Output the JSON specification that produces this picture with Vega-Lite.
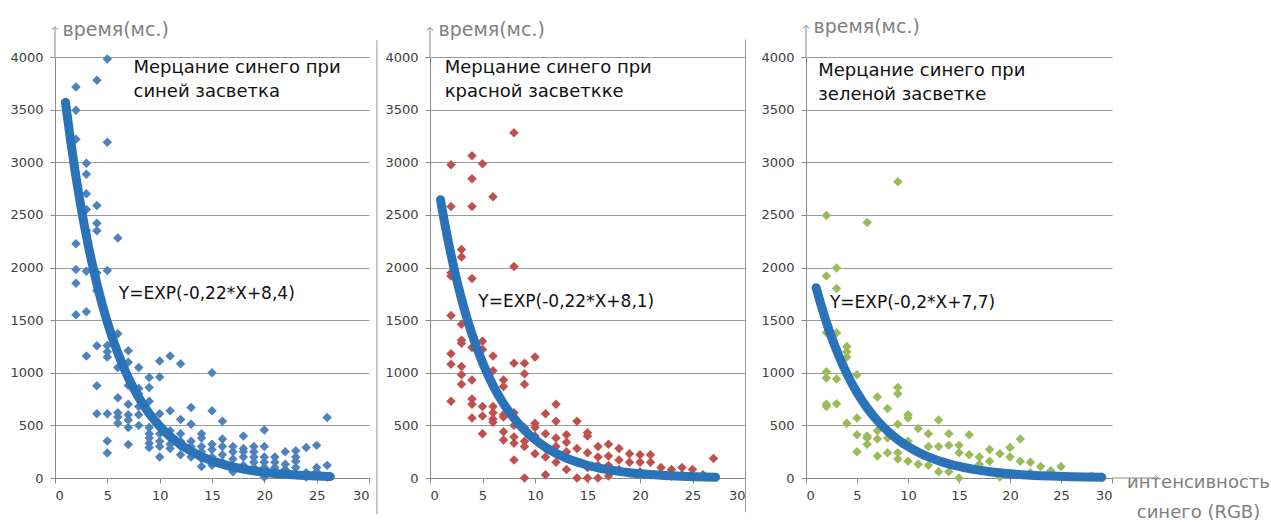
{
  "$schema": "https://vega.github.io/schema/vega-lite/v6.json",
  "padding": {"left": 9, "top": 17, "right": 0, "bottom": 0},
  "background": "white",
  "config": {"view": {"stroke": null}, "font": "DejaVu Sans"},
  "spacing": 61,
  "bounds": "flush",
  "datasets": {
    "pts": [
      {"p":"b","x":2,"y":3714},{"p":"b","x":2,"y":3495},{"p":"b","x":2,"y":3219},{"p":"b","x":2,"y":2226},{"p":"b","x":2,"y":1850},{"p":"b","x":2,"y":1550},{"p":"b","x":2,"y":1980},
      {"p":"b","x":3,"y":2886},{"p":"b","x":3,"y":2700},{"p":"b","x":3,"y":2550},{"p":"b","x":3,"y":2350},{"p":"b","x":3,"y":1965},{"p":"b","x":3,"y":1580},{"p":"b","x":3,"y":1160},{"p":"b","x":3,"y":2990},
      {"p":"b","x":4,"y":3780},{"p":"b","x":4,"y":2590},{"p":"b","x":4,"y":2420},{"p":"b","x":4,"y":2350},{"p":"b","x":4,"y":1780},{"p":"b","x":4,"y":1257},{"p":"b","x":4,"y":876},{"p":"b","x":4,"y":610},{"p":"b","x":4,"y":1950},
      {"p":"b","x":5,"y":3980},{"p":"b","x":5,"y":3190},{"p":"b","x":5,"y":1971},{"p":"b","x":5,"y":1200},{"p":"b","x":5,"y":1150},{"p":"b","x":5,"y":610},{"p":"b","x":5,"y":352},{"p":"b","x":5,"y":238},{"p":"b","x":5,"y":1480},{"p":"b","x":5,"y":1260},
      {"p":"b","x":6,"y":2280},{"p":"b","x":6,"y":1370},{"p":"b","x":6,"y":762},{"p":"b","x":6,"y":580},{"p":"b","x":6,"y":520},{"p":"b","x":6,"y":1050},{"p":"b","x":6,"y":620},
      {"p":"b","x":7,"y":1210},{"p":"b","x":7,"y":880},{"p":"b","x":7,"y":600},{"p":"b","x":7,"y":480},{"p":"b","x":7,"y":318},{"p":"b","x":7,"y":1100},{"p":"b","x":7,"y":550},{"p":"b","x":7,"y":700},
      {"p":"b","x":8,"y":1050},{"p":"b","x":8,"y":800},{"p":"b","x":8,"y":500},{"p":"b","x":8,"y":600},{"p":"b","x":8,"y":680},{"p":"b","x":8,"y":850},
      {"p":"b","x":9,"y":955},{"p":"b","x":9,"y":860},{"p":"b","x":9,"y":730},{"p":"b","x":9,"y":420},{"p":"b","x":9,"y":330},{"p":"b","x":9,"y":380},{"p":"b","x":9,"y":290},{"p":"b","x":9,"y":600},{"p":"b","x":9,"y":480},
      {"p":"b","x":10,"y":1112},{"p":"b","x":10,"y":960},{"p":"b","x":10,"y":610},{"p":"b","x":10,"y":200},{"p":"b","x":10,"y":350},{"p":"b","x":10,"y":420},{"p":"b","x":10,"y":300},{"p":"b","x":10,"y":500},
      {"p":"b","x":11,"y":1160},{"p":"b","x":11,"y":640},{"p":"b","x":11,"y":320},{"p":"b","x":11,"y":450},{"p":"b","x":11,"y":380},{"p":"b","x":11,"y":280},
      {"p":"b","x":12,"y":1085},{"p":"b","x":12,"y":555},{"p":"b","x":12,"y":220},{"p":"b","x":12,"y":420},{"p":"b","x":12,"y":300},{"p":"b","x":12,"y":350},
      {"p":"b","x":13,"y":670},{"p":"b","x":13,"y":510},{"p":"b","x":13,"y":350},{"p":"b","x":13,"y":250},{"p":"b","x":13,"y":200},{"p":"b","x":13,"y":300},
      {"p":"b","x":14,"y":420},{"p":"b","x":14,"y":110},{"p":"b","x":14,"y":300},{"p":"b","x":14,"y":250},{"p":"b","x":14,"y":380},{"p":"b","x":14,"y":180},
      {"p":"b","x":15,"y":1000},{"p":"b","x":15,"y":640},{"p":"b","x":15,"y":320},{"p":"b","x":15,"y":200},{"p":"b","x":15,"y":120},{"p":"b","x":15,"y":270},
      {"p":"b","x":16,"y":540},{"p":"b","x":16,"y":370},{"p":"b","x":16,"y":220},{"p":"b","x":16,"y":150},{"p":"b","x":16,"y":300},
      {"p":"b","x":17,"y":300},{"p":"b","x":17,"y":250},{"p":"b","x":17,"y":100},{"p":"b","x":17,"y":180},{"p":"b","x":17,"y":60},
      {"p":"b","x":18,"y":400},{"p":"b","x":18,"y":250},{"p":"b","x":18,"y":200},{"p":"b","x":18,"y":120},{"p":"b","x":18,"y":280},
      {"p":"b","x":19,"y":300},{"p":"b","x":19,"y":200},{"p":"b","x":19,"y":150},{"p":"b","x":19,"y":100},{"p":"b","x":19,"y":250},
      {"p":"b","x":20,"y":457},{"p":"b","x":20,"y":300},{"p":"b","x":20,"y":200},{"p":"b","x":20,"y":100},{"p":"b","x":20,"y":10},{"p":"b","x":20,"y":150},
      {"p":"b","x":21,"y":200},{"p":"b","x":21,"y":100},{"p":"b","x":21,"y":150},{"p":"b","x":21,"y":50},
      {"p":"b","x":22,"y":250},{"p":"b","x":22,"y":80},{"p":"b","x":22,"y":130},
      {"p":"b","x":23,"y":260},{"p":"b","x":23,"y":160},{"p":"b","x":23,"y":200},{"p":"b","x":23,"y":100},
      {"p":"b","x":24,"y":290},{"p":"b","x":24,"y":10},{"p":"b","x":24,"y":50},
      {"p":"b","x":25,"y":310},{"p":"b","x":25,"y":60},{"p":"b","x":25,"y":100},
      {"p":"b","x":26,"y":575},{"p":"b","x":26,"y":120},{"p":"b","x":26,"y":10},

      {"p":"r","x":2,"y":2976},{"p":"r","x":2,"y":2580},{"p":"r","x":2,"y":1950},{"p":"r","x":2,"y":1920},{"p":"r","x":2,"y":1545},{"p":"r","x":2,"y":1180},{"p":"r","x":2,"y":1080},{"p":"r","x":2,"y":730},
      {"p":"r","x":3,"y":2170},{"p":"r","x":3,"y":2100},{"p":"r","x":3,"y":1460},{"p":"r","x":3,"y":1310},{"p":"r","x":3,"y":1280},{"p":"r","x":3,"y":1060},{"p":"r","x":3,"y":980},{"p":"r","x":3,"y":890},
      {"p":"r","x":4,"y":3062},{"p":"r","x":4,"y":2843},{"p":"r","x":4,"y":2580},{"p":"r","x":4,"y":1895},{"p":"r","x":4,"y":1240},{"p":"r","x":4,"y":930},{"p":"r","x":4,"y":750},{"p":"r","x":4,"y":570},{"p":"r","x":4,"y":700},
      {"p":"r","x":5,"y":2986},{"p":"r","x":5,"y":1300},{"p":"r","x":5,"y":1220},{"p":"r","x":5,"y":680},{"p":"r","x":5,"y":590},{"p":"r","x":5,"y":420},
      {"p":"r","x":6,"y":2673},{"p":"r","x":6,"y":1160},{"p":"r","x":6,"y":620},{"p":"r","x":6,"y":560},{"p":"r","x":6,"y":1020},{"p":"r","x":6,"y":680},{"p":"r","x":6,"y":530},
      {"p":"r","x":7,"y":930},{"p":"r","x":7,"y":870},{"p":"r","x":7,"y":440},{"p":"r","x":7,"y":360},{"p":"r","x":7,"y":600},{"p":"r","x":7,"y":580},
      {"p":"r","x":8,"y":3280},{"p":"r","x":8,"y":2010},{"p":"r","x":8,"y":1090},{"p":"r","x":8,"y":390},{"p":"r","x":8,"y":330},{"p":"r","x":8,"y":170},{"p":"r","x":8,"y":620},{"p":"r","x":8,"y":500},
      {"p":"r","x":9,"y":1090},{"p":"r","x":9,"y":990},{"p":"r","x":9,"y":890},{"p":"r","x":9,"y":300},{"p":"r","x":9,"y":0},{"p":"r","x":9,"y":480},{"p":"r","x":9,"y":350},
      {"p":"r","x":10,"y":1150},{"p":"r","x":10,"y":520},{"p":"r","x":10,"y":230},{"p":"r","x":10,"y":480},{"p":"r","x":10,"y":400},
      {"p":"r","x":11,"y":610},{"p":"r","x":11,"y":280},{"p":"r","x":11,"y":30},{"p":"r","x":11,"y":420},{"p":"r","x":11,"y":200},
      {"p":"r","x":12,"y":700},{"p":"r","x":12,"y":540},{"p":"r","x":12,"y":380},{"p":"r","x":12,"y":150},{"p":"r","x":12,"y":300},
      {"p":"r","x":13,"y":410},{"p":"r","x":13,"y":340},{"p":"r","x":13,"y":80},{"p":"r","x":13,"y":250},
      {"p":"r","x":14,"y":540},{"p":"r","x":14,"y":280},{"p":"r","x":14,"y":0},{"p":"r","x":14,"y":150},
      {"p":"r","x":15,"y":430},{"p":"r","x":15,"y":400},{"p":"r","x":15,"y":240},{"p":"r","x":15,"y":0},{"p":"r","x":15,"y":100},
      {"p":"r","x":16,"y":300},{"p":"r","x":16,"y":200},{"p":"r","x":16,"y":0},{"p":"r","x":16,"y":120},
      {"p":"r","x":17,"y":320},{"p":"r","x":17,"y":210},{"p":"r","x":17,"y":20},{"p":"r","x":17,"y":120},
      {"p":"r","x":18,"y":280},{"p":"r","x":18,"y":170},{"p":"r","x":18,"y":80},
      {"p":"r","x":19,"y":230},{"p":"r","x":19,"y":150},{"p":"r","x":19,"y":50},
      {"p":"r","x":20,"y":220},{"p":"r","x":20,"y":150},{"p":"r","x":20,"y":60},
      {"p":"r","x":21,"y":220},{"p":"r","x":21,"y":150},{"p":"r","x":21,"y":30},
      {"p":"r","x":22,"y":100},{"p":"r","x":22,"y":40},
      {"p":"r","x":23,"y":80},{"p":"r","x":23,"y":20},
      {"p":"r","x":24,"y":100},{"p":"r","x":24,"y":30},
      {"p":"r","x":25,"y":80},{"p":"r","x":25,"y":10},
      {"p":"r","x":26,"y":30},{"p":"r","x":27,"y":185},

      {"p":"g","x":2,"y":2494},{"p":"g","x":2,"y":1920},{"p":"g","x":2,"y":1383},{"p":"g","x":2,"y":1010},{"p":"g","x":2,"y":950},{"p":"g","x":2,"y":700},{"p":"g","x":2,"y":680},
      {"p":"g","x":3,"y":1995},{"p":"g","x":3,"y":1800},{"p":"g","x":3,"y":1380},{"p":"g","x":3,"y":940},{"p":"g","x":3,"y":705},
      {"p":"g","x":4,"y":1250},{"p":"g","x":4,"y":1200},{"p":"g","x":4,"y":1150},{"p":"g","x":4,"y":520},
      {"p":"g","x":5,"y":980},{"p":"g","x":5,"y":570},{"p":"g","x":5,"y":410},{"p":"g","x":5,"y":250},{"p":"g","x":5,"y":800},
      {"p":"g","x":6,"y":2428},{"p":"g","x":6,"y":400},{"p":"g","x":6,"y":320},{"p":"g","x":6,"y":380},
      {"p":"g","x":7,"y":770},{"p":"g","x":7,"y":370},{"p":"g","x":7,"y":210},{"p":"g","x":7,"y":450},
      {"p":"g","x":8,"y":660},{"p":"g","x":8,"y":240},{"p":"g","x":8,"y":380},
      {"p":"g","x":9,"y":2814},{"p":"g","x":9,"y":860},{"p":"g","x":9,"y":800},{"p":"g","x":9,"y":510},{"p":"g","x":9,"y":240},{"p":"g","x":9,"y":180},
      {"p":"g","x":10,"y":600},{"p":"g","x":10,"y":570},{"p":"g","x":10,"y":160},{"p":"g","x":10,"y":350},
      {"p":"g","x":11,"y":470},{"p":"g","x":11,"y":130},{"p":"g","x":11,"y":250},
      {"p":"g","x":12,"y":420},{"p":"g","x":12,"y":120},{"p":"g","x":12,"y":300},
      {"p":"g","x":13,"y":550},{"p":"g","x":13,"y":300},{"p":"g","x":13,"y":60},
      {"p":"g","x":14,"y":420},{"p":"g","x":14,"y":310},{"p":"g","x":14,"y":60},
      {"p":"g","x":15,"y":310},{"p":"g","x":15,"y":240},{"p":"g","x":15,"y":0},
      {"p":"g","x":16,"y":410},{"p":"g","x":16,"y":220},
      {"p":"g","x":17,"y":200},{"p":"g","x":17,"y":130},
      {"p":"g","x":18,"y":270},{"p":"g","x":18,"y":160},
      {"p":"g","x":19,"y":230},{"p":"g","x":19,"y":10},
      {"p":"g","x":20,"y":290},{"p":"g","x":20,"y":200},
      {"p":"g","x":21,"y":370},{"p":"g","x":21,"y":160},
      {"p":"g","x":22,"y":150},{"p":"g","x":22,"y":50},
      {"p":"g","x":23,"y":110},{"p":"g","x":24,"y":70},{"p":"g","x":25,"y":110},{"p":"g","x":28,"y":20},{"p":"g","x":29,"y":10}
    ],
    "fit": [
      {"p":"b","x":1,"y":3569},{"p":"b","x":1.5,"y":3197},{"p":"b","x":2,"y":2864},{"p":"b","x":2.5,"y":2566},{"p":"b","x":3,"y":2299},{"p":"b","x":3.5,"y":2059},{"p":"b","x":4,"y":1845},{"p":"b","x":5,"y":1480},{"p":"b","x":6,"y":1188},{"p":"b","x":7,"y":953},{"p":"b","x":8,"y":765},{"p":"b","x":9,"y":614},{"p":"b","x":10,"y":493},{"p":"b","x":11,"y":395},{"p":"b","x":12,"y":317},{"p":"b","x":13,"y":255},{"p":"b","x":14,"y":204},{"p":"b","x":15,"y":164},{"p":"b","x":16,"y":132},{"p":"b","x":17,"y":106},{"p":"b","x":18,"y":85},{"p":"b","x":19,"y":68},{"p":"b","x":20,"y":55},{"p":"b","x":22,"y":35},{"p":"b","x":24,"y":23},{"p":"b","x":26.3,"y":14},
      {"p":"r","x":1,"y":2644},{"p":"r","x":1.5,"y":2368},{"p":"r","x":2,"y":2122},{"p":"r","x":2.5,"y":1901},{"p":"r","x":3,"y":1703},{"p":"r","x":3.5,"y":1525},{"p":"r","x":4,"y":1367},{"p":"r","x":5,"y":1097},{"p":"r","x":6,"y":880},{"p":"r","x":7,"y":706},{"p":"r","x":8,"y":567},{"p":"r","x":9,"y":455},{"p":"r","x":10,"y":365},{"p":"r","x":11,"y":293},{"p":"r","x":12,"y":235},{"p":"r","x":13,"y":189},{"p":"r","x":14,"y":151},{"p":"r","x":15,"y":121},{"p":"r","x":16,"y":97},{"p":"r","x":17,"y":78},{"p":"r","x":18,"y":63},{"p":"r","x":19,"y":50},{"p":"r","x":20,"y":40},{"p":"r","x":22,"y":26},{"p":"r","x":24,"y":17},{"p":"r","x":27.2,"y":8},
      {"p":"g","x":1,"y":1808},{"p":"g","x":1.5,"y":1636},{"p":"g","x":2,"y":1480},{"p":"g","x":2.5,"y":1339},{"p":"g","x":3,"y":1212},{"p":"g","x":3.5,"y":1097},{"p":"g","x":4,"y":992},{"p":"g","x":5,"y":812},{"p":"g","x":6,"y":665},{"p":"g","x":7,"y":545},{"p":"g","x":8,"y":446},{"p":"g","x":9,"y":365},{"p":"g","x":10,"y":299},{"p":"g","x":11,"y":245},{"p":"g","x":12,"y":200},{"p":"g","x":13,"y":164},{"p":"g","x":14,"y":134},{"p":"g","x":15,"y":110},{"p":"g","x":16,"y":90},{"p":"g","x":17,"y":74},{"p":"g","x":18,"y":60},{"p":"g","x":19,"y":49},{"p":"g","x":20,"y":40},{"p":"g","x":22,"y":27},{"p":"g","x":24,"y":18},{"p":"g","x":26,"y":12},{"p":"g","x":29,"y":7}
    ]
  },
  "hconcat": [
    {
      "width": 314, "height": 421,
      "data": {"values": [{}]},
      "layer": [
        {"data": {"name": "pts"}, "transform": [{"filter": "datum.p == 'b'"}],
         "mark": {"type": "point", "shape": "diamond", "filled": true, "size": 90, "color": "#4F81BD", "opacity": 1},
         "encoding": {
           "x": {"field": "x", "type": "quantitative", "scale": {"domain": [0, 30], "nice": false},
                 "axis": {"values": [0,5,10,15,20,25,30], "format": "d", "grid": false, "domainColor": "#8a8a8a", "tickColor": "#8a8a8a", "tickSize": 5, "labelFont": "DejaVu Sans", "labelFontSize": 13, "labelColor": "#404040", "labelPadding": 6, "title": null}},
           "y": {"field": "y", "type": "quantitative", "scale": {"domain": [0, 4000], "nice": false},
                 "axis": {"values": [0,500,1000,1500,2000,2500,3000,3500,4000], "format": "d", "grid": true, "gridColor": "#9a9a9a", "domainColor": "#8a8a8a", "tickColor": "#8a8a8a", "tickSize": 5, "labelFont": "DejaVu Sans", "labelFontSize": 13, "labelColor": "#404040", "labelPadding": 7,
                          "title": "время(мс.)", "titleAngle": 0, "titleAlign": "left", "titleBaseline": "middle", "titleX": 7, "titleY": -28, "titleFontSize": 19, "titleFontWeight": "normal", "titleColor": "#7f7f7f", "titleFont": "DejaVu Sans"}}
         }},
        {"data": {"name": "fit"}, "transform": [{"filter": "datum.p == 'b'"}],
         "mark": {"type": "line", "color": "#2a73b8", "strokeWidth": 9, "strokeCap": "round", "interpolate": "monotone"},
         "encoding": {"x": {"field": "x", "type": "quantitative"}, "y": {"field": "y", "type": "quantitative"}}},
        {"mark": {"type": "rule", "color": "#8a8a8a"}, "encoding": {"x": {"datum": 0}, "y": {"datum": 4000}, "y2": {"datum": 4285}}},
        {"mark": {"type": "point", "shape": "M-1,0.9L0,0L1,0.9", "filled": false, "size": 40, "stroke": "#8a8a8a", "strokeWidth": 1, "opacity": 1}, "encoding": {"x": {"datum": 0}, "y": {"datum": 4285}}},
        {"mark": {"type": "rule", "color": "#9a9a9a"}, "encoding": {"x": {"datum": 30.75}, "y": {"datum": -345}, "y2": {"datum": 4160}}},
        {"mark": {"type": "text", "align": "left", "baseline": "top", "fontSize": 18, "lineHeight": 24, "lineBreak": "\n", "color": "#111", "font": "DejaVu Sans"},
         "encoding": {"x": {"datum": 7.5}, "y": {"datum": 3985}, "text": {"value": "Мерцание синего при\nсиней засветка"}}},
        {"mark": {"type": "text", "align": "left", "baseline": "middle", "fontSize": 17, "color": "#111", "font": "DejaVu Sans"},
         "encoding": {"x": {"datum": 6.1}, "y": {"datum": 1752}, "text": {"value": "Y=EXP(-0,22*X+8,4)"}}}
      ]
    },
    {
      "width": 315, "height": 421,
      "data": {"values": [{}]},
      "layer": [
        {"data": {"name": "pts"}, "transform": [{"filter": "datum.p == 'r'"}],
         "mark": {"type": "point", "shape": "diamond", "filled": true, "size": 90, "color": "#C0504D", "opacity": 1},
         "encoding": {
           "x": {"field": "x", "type": "quantitative", "scale": {"domain": [0, 30], "nice": false},
                 "axis": {"values": [0,5,10,15,20,25,30], "format": "d", "grid": false, "domainColor": "#8a8a8a", "tickColor": "#8a8a8a", "tickSize": 5, "labelFont": "DejaVu Sans", "labelFontSize": 13, "labelColor": "#404040", "labelPadding": 6, "title": null}},
           "y": {"field": "y", "type": "quantitative", "scale": {"domain": [0, 4000], "nice": false},
                 "axis": {"values": [0,500,1000,1500,2000,2500,3000,3500,4000], "format": "d", "grid": true, "gridColor": "#9a9a9a", "domainColor": "#8a8a8a", "tickColor": "#8a8a8a", "tickSize": 5, "labelFont": "DejaVu Sans", "labelFontSize": 13, "labelColor": "#404040", "labelPadding": 7,
                          "title": "время(мс.)", "titleAngle": 0, "titleAlign": "left", "titleBaseline": "middle", "titleX": 8, "titleY": -28, "titleFontSize": 19, "titleFontWeight": "normal", "titleColor": "#7f7f7f", "titleFont": "DejaVu Sans"}}
         }},
        {"data": {"name": "fit"}, "transform": [{"filter": "datum.p == 'r'"}],
         "mark": {"type": "line", "color": "#2a73b8", "strokeWidth": 9, "strokeCap": "round", "interpolate": "monotone"},
         "encoding": {"x": {"field": "x", "type": "quantitative"}, "y": {"field": "y", "type": "quantitative"}}},
        {"mark": {"type": "rule", "color": "#8a8a8a"}, "encoding": {"x": {"datum": 0}, "y": {"datum": 4000}, "y2": {"datum": 4280}}},
        {"mark": {"type": "point", "shape": "M-1,0.9L0,0L1,0.9", "filled": false, "size": 40, "stroke": "#8a8a8a", "strokeWidth": 1, "opacity": 1}, "encoding": {"x": {"datum": 0}, "y": {"datum": 4280}}},
        {"mark": {"type": "rule", "color": "#9a9a9a"}, "encoding": {"x": {"datum": 30.05}, "y": {"datum": -325}, "y2": {"datum": 4165}}},
        {"mark": {"type": "text", "align": "left", "baseline": "top", "fontSize": 18, "lineHeight": 24, "lineBreak": "\n", "color": "#111", "font": "DejaVu Sans"},
         "encoding": {"x": {"datum": 1.4}, "y": {"datum": 3985}, "text": {"value": "Мерцание синего при\nкрасной засветкке"}}},
        {"mark": {"type": "text", "align": "left", "baseline": "middle", "fontSize": 17, "color": "#111", "font": "DejaVu Sans"},
         "encoding": {"x": {"datum": 4.6}, "y": {"datum": 1668}, "text": {"value": "Y=EXP(-0,22*X+8,1)"}}}
      ]
    },
    {
      "width": 306, "height": 421,
      "data": {"values": [{}]},
      "layer": [
        {"data": {"name": "pts"}, "transform": [{"filter": "datum.p == 'g'"}],
         "mark": {"type": "point", "shape": "diamond", "filled": true, "size": 90, "color": "#9BBB59", "opacity": 1},
         "encoding": {
           "x": {"field": "x", "type": "quantitative", "scale": {"domain": [0, 30], "nice": false},
                 "axis": {"values": [0,5,10,15,20,25,30], "format": "d", "grid": false, "domainColor": "#8a8a8a", "tickColor": "#8a8a8a", "tickSize": 5, "labelFont": "DejaVu Sans", "labelFontSize": 13, "labelColor": "#404040", "labelPadding": 6,
                          "title": ["интенсивность", "синего (RGB)"], "titleAngle": 0, "titleAlign": "center", "titleBaseline": "top", "titleX": 392, "titleY": -5, "titleLineHeight": 30, "titleFontSize": 18, "titleFontWeight": "normal", "titleColor": "#7f7f7f", "titleFont": "DejaVu Sans"}},
           "y": {"field": "y", "type": "quantitative", "scale": {"domain": [0, 4000], "nice": false},
                 "axis": {"values": [0,500,1000,1500,2000,2500,3000,3500,4000], "format": "d", "grid": true, "gridColor": "#9a9a9a", "domainColor": "#8a8a8a", "tickColor": "#8a8a8a", "tickSize": 5, "labelFont": "DejaVu Sans", "labelFontSize": 13, "labelColor": "#404040", "labelPadding": 7,
                          "title": "время(мс.)", "titleAngle": 0, "titleAlign": "left", "titleBaseline": "middle", "titleX": 7, "titleY": -31, "titleFontSize": 19, "titleFontWeight": "normal", "titleColor": "#7f7f7f", "titleFont": "DejaVu Sans"}}
         }},
        {"data": {"name": "fit"}, "transform": [{"filter": "datum.p == 'g'"}],
         "mark": {"type": "line", "color": "#2a73b8", "strokeWidth": 9, "strokeCap": "round", "interpolate": "monotone"},
         "encoding": {"x": {"field": "x", "type": "quantitative"}, "y": {"field": "y", "type": "quantitative"}}},
        {"mark": {"type": "rule", "color": "#8a8a8a"}, "encoding": {"x": {"datum": 0}, "y": {"datum": 4000}, "y2": {"datum": 4300}}},
        {"mark": {"type": "point", "shape": "M-1,0.9L0,0L1,0.9", "filled": false, "size": 40, "stroke": "#8a8a8a", "strokeWidth": 1, "opacity": 1}, "encoding": {"x": {"datum": 0}, "y": {"datum": 4300}}},
        {"mark": {"type": "rule", "color": "#8a8a8a"}, "encoding": {"x": {"datum": 30}, "x2": {"datum": 34.5}, "y": {"datum": 0}}},
        {"mark": {"type": "point", "shape": "M-0.9,-1L0,0L-0.9,1", "filled": false, "size": 40, "stroke": "#8a8a8a", "strokeWidth": 1, "opacity": 1}, "encoding": {"x": {"datum": 34.5}, "y": {"datum": 0}}},
        {"mark": {"type": "text", "align": "left", "baseline": "top", "fontSize": 18, "lineHeight": 24, "lineBreak": "\n", "color": "#111", "font": "DejaVu Sans"},
         "encoding": {"x": {"datum": 1.2}, "y": {"datum": 3950}, "text": {"value": "Мерцание синего при\nзеленой засветке"}}},
        {"mark": {"type": "text", "align": "left", "baseline": "middle", "fontSize": 17, "color": "#111", "font": "DejaVu Sans"},
         "encoding": {"x": {"datum": 2.35}, "y": {"datum": 1666}, "text": {"value": "Y=EXP(-0,2*X+7,7)"}}}
      ]
    }
  ]
}
